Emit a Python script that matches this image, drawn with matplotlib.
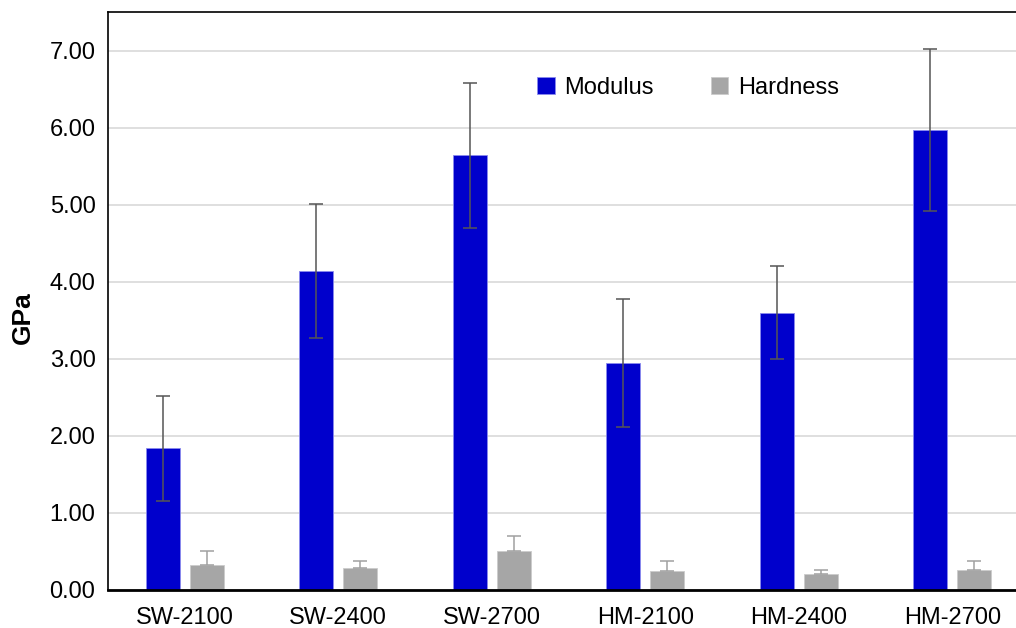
import matplotlib
matplotlib.use("Agg")
import matplotlib.pyplot as plt
import numpy as np

plt.rcParams['font.family'] = ['Liberation Sans', 'DejaVu Sans']

samples = ["SW-2100", "SW-2400", "SW-2700", "HM-2100", "HM-2400", "HM-2700"]
modulus = [1.84, 4.14, 5.64, 2.94, 3.60, 5.97]
modulus_err = [0.68, 0.87, 0.94, 0.83, 0.60, 1.05]
hardness = [0.32, 0.29, 0.51, 0.25, 0.21, 0.26]
hardness_err = [0.19, 0.08, 0.19, 0.13, 0.05, 0.11]
y_ticks = [0.0, 1.0, 2.0, 3.0, 4.0, 5.0, 6.0, 7.0]

fig = plt.figure(figsize=(10.16, 6.28), dpi=100)
ax = fig.add_axes([108 / 1016, 1 - 590 / 628, 921 / 1016, 578 / 628])

x = np.arange(len(samples))
offset = 0.143
width = 0.223

ax.bar(x - offset, modulus, width, color="#0000CC", edgecolor="#8a8aee",
       linewidth=0.6, label="Modulus", zorder=2)
ax.bar(x + offset, hardness, width, color="#A6A6A6", edgecolor="#cccccc",
       linewidth=0.6, label="Hardness", zorder=2)

ax.errorbar(x - offset, modulus, yerr=modulus_err, fmt="none",
            ecolor="#555555", elinewidth=1.1, capsize=5, capthick=1.1, zorder=3)
ax.errorbar(x + offset, hardness, yerr=[np.zeros(len(hardness)), hardness_err],
            fmt="none", ecolor="#a0a0a0", elinewidth=1.1, capsize=5,
            capthick=1.1, zorder=3)

ax.set_xlim(-0.5, len(samples) - 0.5)
ax.set_ylim(0, 7.5)
ax.set_yticks(y_ticks)
ax.set_yticklabels([f"{v:.2f}" for v in y_ticks])
ax.set_xticks(x)
ax.set_xticklabels(samples)
ax.tick_params(axis="both", length=0, labelsize=17)
ax.tick_params(axis="x", pad=12)
ax.tick_params(axis="y", pad=9)

ax.yaxis.grid(True, color="#d9d9d9", linewidth=1.2, zorder=0)
ax.set_axisbelow(True)

for side in ("left", "top", "right"):
    ax.spines[side].set_linewidth(1.2)
    ax.spines[side].set_color("black")
ax.spines["bottom"].set_linewidth(2.0)
ax.spines["bottom"].set_color("black")

ax.set_ylabel("GPa", fontsize=19, fontweight="bold")
ax.yaxis.set_label_coords((23 - 108) / 921, (590 - 317.5) / 578)
ax.yaxis.label.set_verticalalignment("center")

ax.legend(loc="center", bbox_to_anchor=(688 / 1016, 1 - 88 / 628),
          bbox_transform=fig.transFigure, ncol=2, frameon=False, fontsize=17,
          handlelength=0.75, handleheight=0.75, handletextpad=0.4,
          columnspacing=2.4)

fig.savefig("out.png", dpi=100)
